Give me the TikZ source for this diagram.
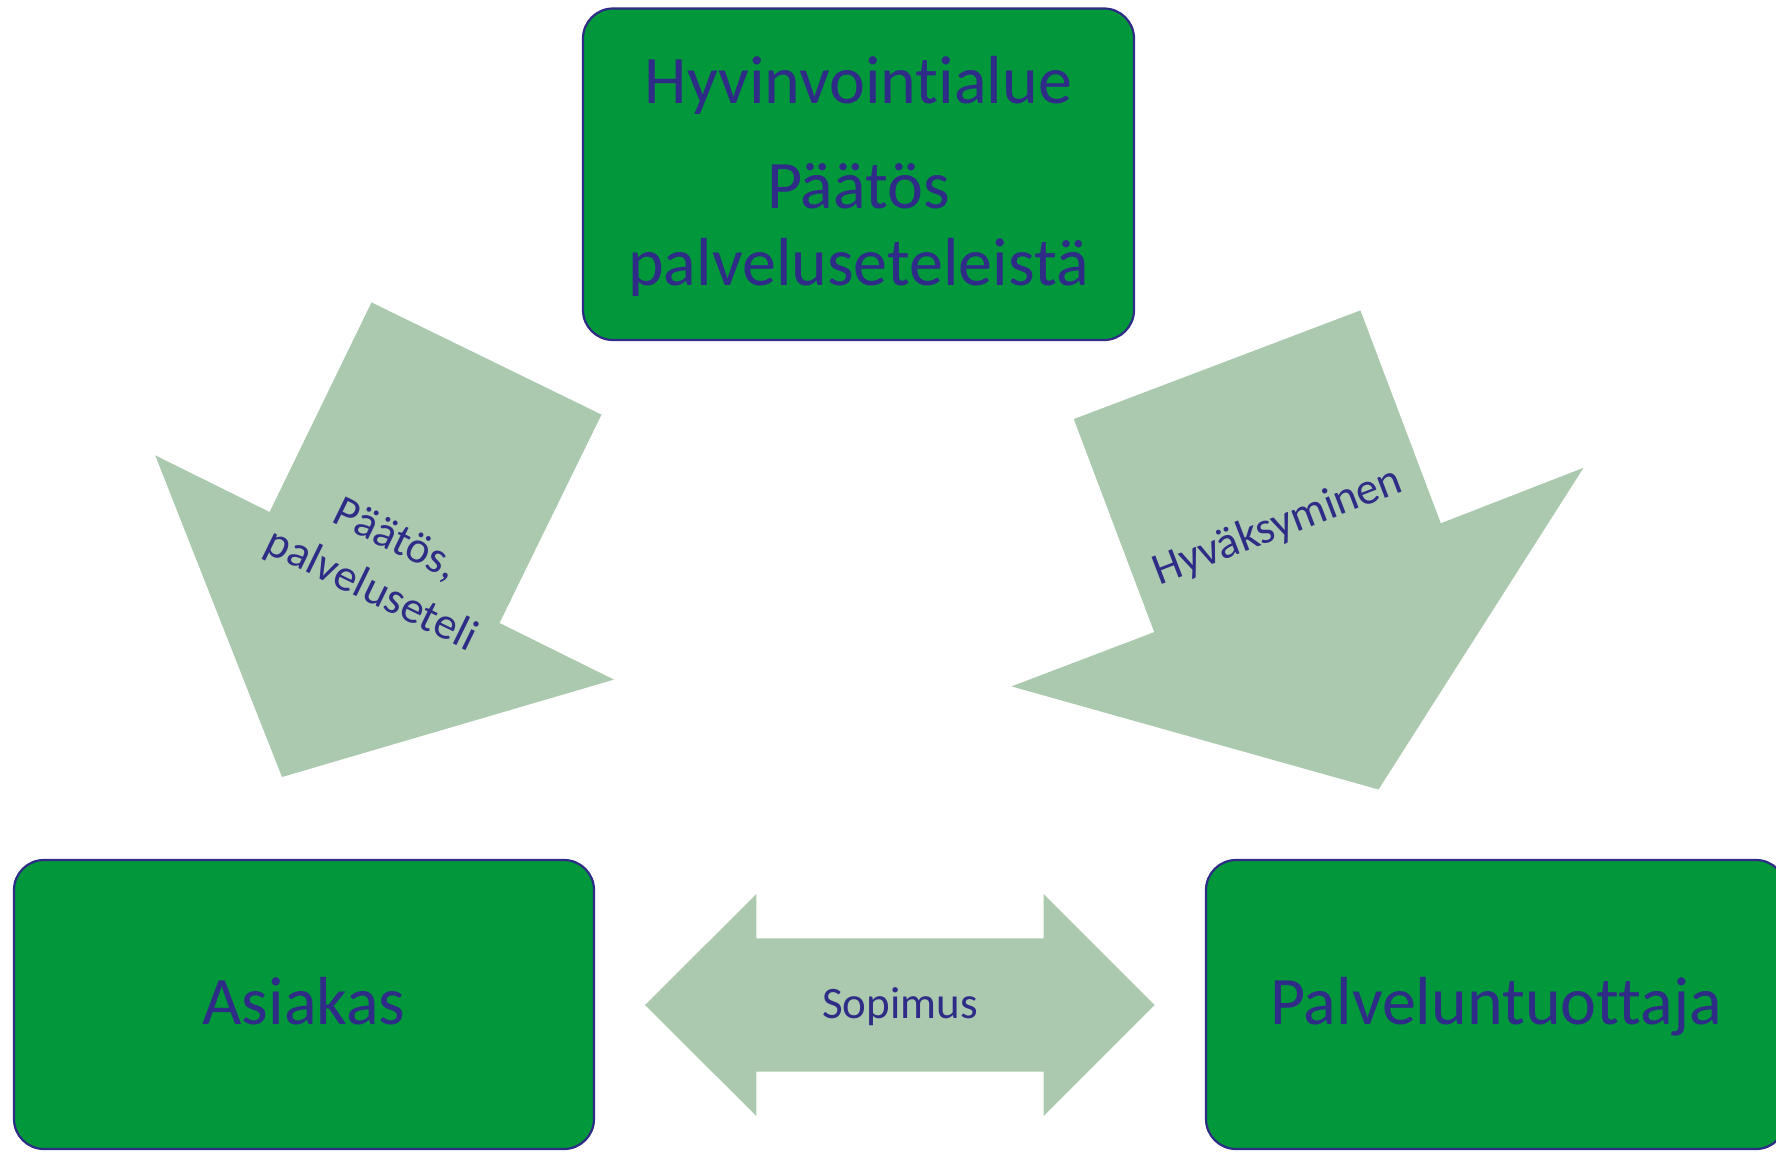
\documentclass[tikz,border=0pt]{standalone}
\usepackage{fontspec}
\setmainfont{Carlito}[Ligatures=NoCommon]
\definecolor{boxgreen}{RGB}{0,152,58}
\definecolor{inkblue}{RGB}{46,44,134}
\definecolor{arrowgreen}{RGB}{170,201,174}

\begin{document}
\begin{tikzpicture}[x=.5pt,y=-.5pt,
    block/.style={draw=inkblue,line width=1.1pt,fill=boxgreen,rounded corners=15pt,
      text=inkblue,font=\fontsize{34}{38.5}\selectfont,align=center,inner sep=0pt},
    bigarrow/.style={fill=arrowgreen},
    arrowlabel/.style={text=inkblue,font=\fontsize{22.5}{28}\selectfont,align=center,inner sep=0pt}]
  \useasboundingbox (0,0) rectangle (1776,1151);

  % arrow to Asiakas
  \fill[bigarrow] (371.5,302.4) -- (601.5,414.6) -- (499.5,623) -- (613.9,679.6)
     -- (282,777) -- (155.2,455.3) -- (269.6,512) -- cycle;
  \node (paatos) at (383,566) [arrowlabel,rotate=-26] {Päätös,\\palveluseteli};

  % arrow to Palveluntuottaja
  \fill[bigarrow] (1073.8,419.1) -- (1360.4,310.4) -- (1440.8,523.3) -- (1583.5,467.8)
     -- (1378.5,789.5) -- (1011.5,686.4) -- (1154.2,632.1) -- cycle;
  \node (hyvaks) at (1277.6,526.7) [arrowlabel,rotate=21] {Hyväksyminen};

  % both ways
  \fill[bigarrow] (645,1005) -- (756.4,894) -- (756.4,938.3) -- (1043.6,938.3)
     -- (1043.6,894) -- (1154.6,1005) -- (1043.6,1116) -- (1043.6,1071.7)
     -- (756.4,1071.7) -- (756.4,1116) -- cycle;
  \node (sopimus) at (900,1018) [arrowlabel,anchor=base] {Sopimus};

  % Hyvinvointialue
  \node (hva) at (858.5,174.25) [block,minimum width=275.5pt,minimum height=165.75pt]
     {\rule{0pt}{26pt}Hyvinvointialue\\[14pt]Päätös\\palveluseteleistä};

  % Asiakas
  \node (asiakas) at (304,1004.5) [block,minimum width=290pt,minimum height=144.5pt,
     text height=27.2pt,text depth=6.8pt] {Asiakas};

  % Palveluntuottaja
  \node (tuottaja) at (1496,1004.5) [block,minimum width=290pt,minimum height=144.5pt,
     text height=27.2pt,text depth=6.8pt] {Palveluntuottaja};
\end{tikzpicture}
\end{document}
